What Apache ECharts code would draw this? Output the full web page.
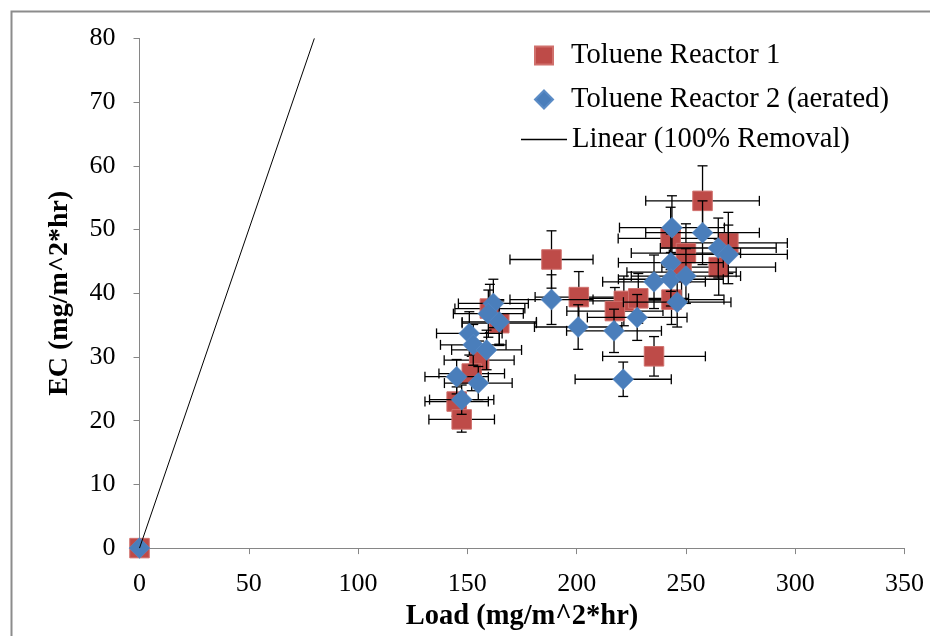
<!DOCTYPE html>
<html>
<head>
<meta charset="utf-8">
<script src="https://cdn.jsdelivr.net/npm/echarts@6/dist/echarts.min.js"></script>
<style>
html,body{margin:0;padding:0;background:#fff;}
#chart{width:930px;height:636px;}
</style>
</head>
<body>
<div id="chart"></div>
<script>
// ---- Data ----
const xTicks = [0, 50, 100, 150, 200, 250, 300, 350];
const yTicks = [0, 10, 20, 30, 40, 50, 60, 70, 80];

const r1Load = [0, 188.5, 201.0, 257.6, 243.0, 250.0, 269.4, 265.0, 248.0, 221.6, 228.2, 217.5, 243.4, 235.4, 160.3, 164.6, 155.4, 152.0, 145.1, 147.4];
const r1EC   = [0, 45.3, 39.4, 54.5, 48.6, 46.3, 47.9, 44.1, 43.3, 38.8, 39.2, 37.2, 39.0, 30.1, 37.6, 35.3, 29.5, 27.4, 23.0, 20.2];
const r1LoadErr = [0, 19, 20, 26, 24, 25, 27, 26, 25, 22, 23, 22, 24, 23.5, 16, 17, 16, 15, 14.5, 15];
const r1ECErr   = [0, 4.5, 4.0, 5.5, 4.9, 4.6, 4.8, 4.4, 4.3, 3.9, 3.9, 3.7, 3.9, 3.1, 3.8, 3.5, 3.0, 2.7, 2.3, 2.0];

const r2Load = [0, 188.5, 200.7, 243.6, 257.6, 264.8, 269.4, 243.1, 235.4, 243.1, 250.0, 246.0, 217.1, 227.7, 221.3, 161.9, 159.6, 164.6, 150.9, 152.7, 158.8, 145.1, 155.0, 147.4];
const r2EC   = [0, 39.0, 34.7, 50.3, 49.5, 47.1, 46.1, 44.8, 41.8, 42.2, 42.7, 38.6, 34.1, 36.2, 26.5, 38.4, 36.8, 35.5, 33.7, 31.9, 31.1, 26.9, 25.9, 23.3];
const r2LoadErr = [0, 19, 20, 24, 26, 26.5, 27, 24, 23.5, 24, 25, 24.6, 21.7, 22.8, 22, 16, 16, 17, 15, 15, 16, 14.5, 15.5, 14.7];
const r2ECErr   = [0, 3.9, 3.5, 5.0, 5.0, 4.7, 4.6, 4.5, 4.2, 4.2, 4.3, 3.9, 3.4, 3.6, 2.7, 3.8, 3.7, 3.5, 3.4, 3.2, 3.1, 2.7, 2.6, 2.3];

const linearLoad = [0, 80];
const linearEC   = [0, 80];

const seriesNames = ['Toluene Reactor 1', 'Toluene Reactor 2 (aerated)', 'Linear (100% Removal)'];
const xTitle = 'Load (mg/m^2*hr)';
const yTitle = 'EC (mg/m^2*hr)';

// ---- Build ----
const FONT = 'Liberation Serif';
const pts = (xs, ys) => xs.map((x, i) => [x, ys[i]]);
const errs = (xs, ys, ex, ey) => xs.map((x, i) => [x, ys[i], ex[i], ey[i]]);

function errRender(params, api) {
  const x = api.value(0), y = api.value(1), ex = api.value(2), ey = api.value(3);
  if (!ex && !ey) return null;
  const c = api.coord([x, y]);
  const l = api.coord([x - ex, y]), r = api.coord([x + ex, y]);
  const t = api.coord([x, y + ey]), b = api.coord([x, y - ey]);
  const cap = 5;
  const style = { stroke: '#000', lineWidth: 1.3 };
  const ln = (x1, y1, x2, y2) => ({ type: 'line', shape: { x1, y1, x2, y2 }, style });
  return {
    type: 'group',
    children: [
      ln(l[0], c[1], r[0], c[1]),
      ln(l[0], c[1] - cap, l[0], c[1] + cap),
      ln(r[0], c[1] - cap, r[0], c[1] + cap),
      ln(c[0], t[1], c[0], b[1]),
      ln(c[0] - cap, t[1], c[0] + cap, t[1]),
      ln(c[0] - cap, b[1], c[0] + cap, b[1])
    ]
  };
}

const legendText = { fontFamily: FONT, fontSize: 28.6, color: '#000' };

const option = {
  backgroundColor: '#fff',
  animation: false,
  grid: { left: 139.5, right: 25.5, top: 38.4, bottom: 85 },
  xAxis: {
    type: 'value', min: xTicks[0], max: xTicks[xTicks.length - 1], interval: 50,
    name: xTitle, nameLocation: 'middle', nameGap: 53,
    nameTextStyle: { fontFamily: FONT, fontSize: 28.5, fontWeight: 'bold', color: '#000' },
    axisLine: { show: true, lineStyle: { color: '#868686', width: 1 } },
    axisTick: { show: true, length: 6, lineStyle: { color: '#868686' } },
    axisLabel: { fontFamily: FONT, fontSize: 26, color: '#000', margin: 23 },
    splitLine: { show: false }
  },
  yAxis: {
    type: 'value', min: yTicks[0], max: yTicks[yTicks.length - 1], interval: 10,
    name: yTitle, nameLocation: 'middle', nameGap: 66,
    nameTextStyle: { fontFamily: FONT, fontSize: 28, fontWeight: 'bold', color: '#000' },
    axisLine: { show: true, lineStyle: { color: '#868686', width: 1 } },
    axisTick: { show: true, length: 6, lineStyle: { color: '#868686' } },
    axisLabel: { fontFamily: FONT, fontSize: 26, color: '#000', margin: 24 },
    splitLine: { show: false }
  },
  legend: [
    { left: 534, top: 41, padding: 0, itemWidth: 18, itemHeight: 18, selectedMode: false,
      textStyle: Object.assign({ padding: [0, 0, 0, 13] }, legendText),
      data: [{ name: seriesNames[0], icon: 'rect' }] },
    { left: 534, top: 85, padding: 0, itemWidth: 18, itemHeight: 18, selectedMode: false,
      textStyle: Object.assign({ padding: [0, 0, 0, 13] }, legendText),
      data: [{ name: seriesNames[1], icon: 'diamond' }] },
    { left: 521, top: 125, padding: 0, itemWidth: 46, itemHeight: 1.3, selectedMode: false,
      textStyle: Object.assign({ padding: [0, 0, 0, 0] }, legendText),
      data: [{ name: seriesNames[2], icon: 'rect' }] }
  ],
  graphic: [
    { type: 'rect', left: 9, top: 9, shape: { x: 0, y: 0, width: 1000, height: 1000 },
      style: { fill: 'none', stroke: '#8c8c8c', lineWidth: 2 }, silent: true, z: -10 }
  ],
  series: [
    {
      type: 'custom', name: 'r1err', renderItem: errRender, clip: false,
      encode: { x: 0, y: 1 }, data: errs(r1Load, r1EC, r1LoadErr, r1ECErr), z: 2, silent: true
    },
    {
      type: 'scatter', name: seriesNames[0], symbol: 'rect', symbolSize: 19.5,
      itemStyle: { color: '#BE4B48', borderColor: '#D0706C', borderWidth: 1, opacity: 1 },
      data: pts(r1Load, r1EC), z: 3, clip: false
    },
    {
      type: 'custom', name: 'r2err', renderItem: errRender, clip: false,
      encode: { x: 0, y: 1 }, data: errs(r2Load, r2EC, r2LoadErr, r2ECErr), z: 4, silent: true
    },
    {
      type: 'scatter', name: seriesNames[1], symbol: 'diamond', symbolSize: 21,
      itemStyle: { color: '#4A7EBB', borderColor: '#5B8CC6', borderWidth: 0.5, opacity: 1 },
      data: pts(r2Load, r2EC), z: 5, clip: false
    },
    {
      type: 'line', name: seriesNames[2], symbol: 'none', showSymbol: false,
      lineStyle: { color: '#000', width: 1 }, itemStyle: { color: '#000' },
      data: pts(linearLoad, linearEC), z: 6, clip: false
    }
  ]
};

const chart = echarts.init(document.getElementById('chart'), null, { renderer: 'canvas' });
chart.setOption(option);
</script>
</body>
</html>
